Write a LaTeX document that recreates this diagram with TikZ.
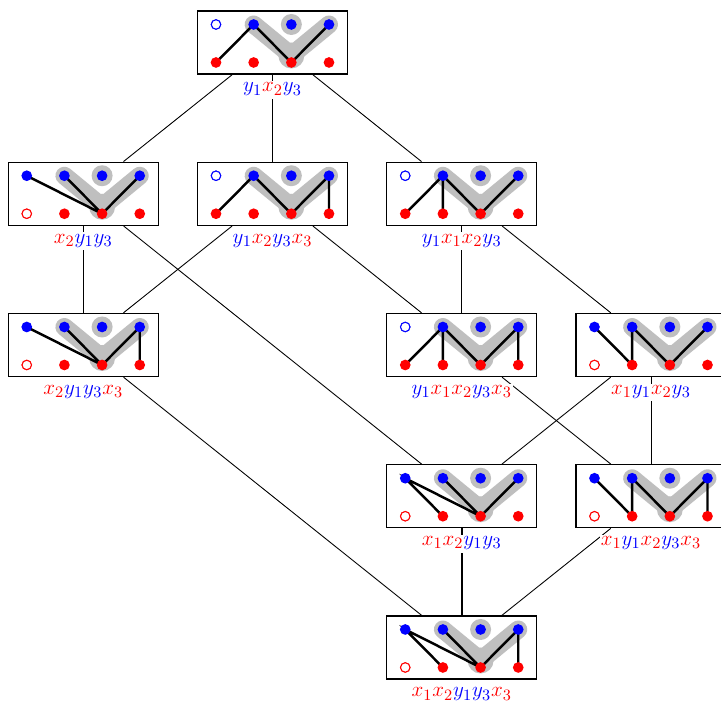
\documentclass[tikz,border=0pt]{standalone}
\usepackage{amsmath}
\usepackage{tikz}
\tikzstyle{state}=[draw,rectangle,line width=0.8pt,fill=white,minimum width=3cm,minimum height=1.26cm,inner sep=0pt]
\tikzstyle{word}=[fill=white,inner sep=0.5pt,text height=0.2cm,text depth=0.12cm,anchor=base,font=\fontsize{13}{15}\selectfont]
\tikzstyle{halo}=[line width=0.36cm,gray!50,line cap=round,line join=round]
\tikzstyle{bond}=[line width=1.4pt,line cap=round]
\tikzstyle{cover}=[line width=0.5pt]

\newcommand{\xv}[1]{\textcolor{red}{x_{#1}}}
\newcommand{\yv}[1]{\textcolor{blue}{y_{#1}}}

% grey band and named points of one state
\newcommand{\band}[1]{%
  \foreach \i/\x in {1/-1.13,2/-0.377,3/0.377,4/1.13}{
    \coordinate (#1t\i) at ([shift={(\x,0.36)}]#1.center);
    \coordinate (#1b\i) at ([shift={(\x,-0.4)}]#1.center);}
  \draw[halo] (#1t2) -- ([yshift=0.14cm]#1b3) -- (#1t4);
  \fill[gray!50] ([yshift=0.14cm]#1b3) circle (0.26);
  \fill[gray!50] (#1t3) circle (0.21);}
% vertices, #2 is the open one
\newcommand{\verts}[3]{%
  \foreach \i in {1,...,4}{
    \fill[blue] (#1t\i) circle (0.107);
    \fill[red] (#1b\i) circle (0.107);}
  \filldraw[fill=white,draw=#3,line width=0.5pt] (#1#2) circle (0.093);}

\begin{document}
\begin{tikzpicture}[node distance=3.785cm]
	\useasboundingbox (0,0) rectangle (14.42,14.04);
	\node (a) [state] at (5.45,13.19) {};
	\node (b2) [state,below of=a,node distance=3.025cm] {};
	\node (b1) [state,left of=b2] {};
	\node (b3) [state,right of=b2] {};
	\node (c1) [state,below of=b1,node distance=3.025cm] {};
	\node (c2) [state,below of=b3,node distance=3.025cm] {};
	\node (c3) [state,right of=c2] {};
	\node (d1) [state,below of=c2,node distance=3.025cm] {};
	\node (d2) [state,right of=d1] {};
	\node (e) [state,below of=d1,node distance=3.025cm] {};

	\band{a}
	\draw[bond] (ab1) -- (at2) -- (ab3) -- (at4);
	\verts{a}{t1}{blue}

	\band{b1}
	\draw[bond] (b1t1) -- (b1b3) (b1t2) -- (b1b3) -- (b1t4);
	\verts{b1}{b1}{red}

	\band{b2}
	\draw[bond] (b2b1) -- (b2t2) -- (b2b3) -- (b2t4) -- (b2b4);
	\verts{b2}{t1}{blue}

	\band{b3}
	\draw[bond] (b3b1) -- (b3t2) -- (b3b3) -- (b3t4) (b3t2) -- (b3b2);
	\verts{b3}{t1}{blue}

	\band{c1}
	\draw[bond] (c1t1) -- (c1b3) (c1t2) -- (c1b3) -- (c1t4) -- (c1b4);
	\verts{c1}{b1}{red}

	\band{c2}
	\draw[bond] (c2b1) -- (c2t2) -- (c2b3) -- (c2t4) -- (c2b4) (c2t2) -- (c2b2);
	\verts{c2}{t1}{blue}

	\band{c3}
	\draw[bond] (c3t1) -- (c3b2) -- (c3t2) -- (c3b3) -- (c3t4);
	\verts{c3}{b1}{red}

	\band{d1}
	\draw[bond] (d1b2) -- (d1t1) -- (d1b3) (d1t2) -- (d1b3) -- (d1t4);
	\verts{d1}{b1}{red}

	\band{d2}
	\draw[bond] (d2t1) -- (d2b2) -- (d2t2) -- (d2b3) -- (d2t4) -- (d2b4);
	\verts{d2}{b1}{red}

	\band{e}
	\draw[bond] (eb2) -- (et1) -- (eb3) (et2) -- (eb3) -- (et4) -- (eb4);
	\verts{e}{b1}{red}

	\path[cover] (a) edge (b1) edge (b2) edge (b3)
	             (b1) edge (c1) edge (d1)
	             (b2) edge (c1) edge (c2)
	             (b3) edge (c2) edge (c3)
	             (c1) edge (e)
	             (c2) edge (d2)
	             (c3) edge (d1) edge (d2)
	             (d2) edge (e);
	\draw[line width=1.4pt] (d1) -- (e);

	\node (la) [word] at ([yshift=-0.99cm]a.center) {$\yv1\xv2\yv3$};
	\node (lb1) [word] at ([yshift=-0.99cm]b1.center) {$\xv2\yv1\yv3$};
	\node (lb2) [word] at ([yshift=-0.99cm]b2.center) {$\yv1\xv2\yv3\xv3$};
	\node (lb3) [word] at ([yshift=-0.99cm]b3.center) {$\yv1\xv1\xv2\yv3$};
	\node (lc1) [word] at ([yshift=-0.99cm]c1.center) {$\xv2\yv1\yv3\xv3$};
	\node (lc2) [word] at ([yshift=-0.99cm]c2.center) {$\yv1\xv1\xv2\yv3\xv3$};
	\node (lc3) [word] at ([yshift=-0.99cm]c3.center) {$\xv1\yv1\xv2\yv3$};
	\node (ld1) [word] at ([yshift=-0.99cm]d1.center) {$\xv1\xv2\yv1\yv3$};
	\node (ld2) [word] at ([yshift=-0.99cm]d2.center) {$\xv1\yv1\xv2\yv3\xv3$};
	\node (le) [word] at ([yshift=-0.99cm]e.center) {$\xv1\xv2\yv1\yv3\xv3$};
\end{tikzpicture}
\end{document}
